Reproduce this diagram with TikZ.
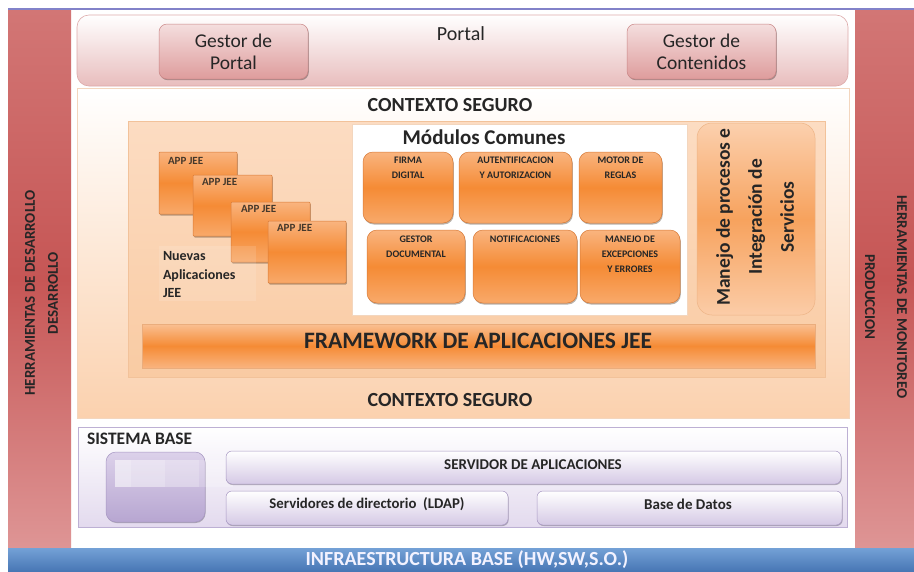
\documentclass[tikz,border=0pt]{standalone}
\usepackage{fontspec}
\setmainfont{Carlito}[BoldFont={Carlito Bold}]
\usetikzlibrary{shadows}
\newcommand\fsz[2]{\fontsize{#1}{#2}\selectfont}
% \bx[style]{name}{x1}{y1}{x2}{y2}{text}
\newcommand\bx[7][]{\node[box,#1,minimum width={(#5-#3)*1pt},minimum height={(#6-#4)*1pt}] (#2) at ({(#3+#5)/2},{(#4+#6)/2}) {#7};}
\definecolor{redtop}{HTML}{D27675}
\definecolor{redmid}{HTML}{C65655}
\definecolor{redbot}{HTML}{DE9595}
\definecolor{bluetop}{HTML}{74A1D6}
\definecolor{bluebot}{HTML}{4877B5}
\definecolor{pinkbot}{HTML}{E8BDBD}
\definecolor{pinkline}{HTML}{DDAAAA}
\definecolor{gesttop}{HTML}{F4DEDE}
\definecolor{gestbot}{HTML}{DE9C9C}
\definecolor{gestline}{HTML}{C98585}
\definecolor{peach}{HTML}{FBD1AE}
\definecolor{peachline}{HTML}{F3D6BE}
\definecolor{innertop}{HTML}{FCDCC2}
\definecolor{innerbot}{HTML}{F9CBA3}
\definecolor{innerline}{HTML}{F2C29A}
\definecolor{ortop}{HTML}{F9B47F}
\definecolor{ormid}{HTML}{F58B35}
\definecolor{orbot}{HTML}{F8A96A}
\definecolor{orline}{HTML}{D97B38}
\definecolor{lavbot}{HTML}{E3DAEE}
\definecolor{lavline}{HTML}{BDB0D4}
\definecolor{subbot}{HTML}{D5C9E5}
\definecolor{subline}{HTML}{A797C3}
\definecolor{icontop}{HTML}{DCD1EA}
\definecolor{iconbot}{HTML}{B7A6D1}
\definecolor{txt}{HTML}{262626}
\tikzset{
  box/.style={inner sep=0pt,outer sep=0pt},
  lbl/.style={inner sep=0pt,outer sep=0pt,text=txt,align=center},
  redbar/.style={top color=redtop,bottom color=redbot,middle color=redmid},
  orbox/.style={top color=ortop,bottom color=orbot,middle color=ormid,draw=orline,line width=0.5pt,
     drop shadow={shadow xshift=0.8pt,shadow yshift=-1.5pt,fill=black!70!brown,opacity=0.35}},
  modbox/.style={orbox,rounded corners=10pt},
  appbox/.style={orbox,rounded corners=1pt},
  subbox/.style={top color=white,bottom color=subbot,draw=subline,line width=0.5pt,rounded corners=6pt,
     drop shadow={shadow xshift=0.6pt,shadow yshift=-1pt,fill=black,opacity=0.25}},
  gestor/.style={top color=gesttop,bottom color=gestbot,draw=gestline,line width=0.5pt,rounded corners=8pt,
     drop shadow={shadow xshift=0.8pt,shadow yshift=-1.2pt,fill=black,opacity=0.3}},
  modtxt/.style={lbl,font=\fsz{10}{15}\bfseries,anchor=north},
  apptxt/.style={lbl,font=\fsz{11}{12}\bfseries,anchor=north west,text=txt!80!brown},
}
\begin{document}
\begin{tikzpicture}[x=1pt,y=-1pt]
\useasboundingbox (0,0) rectangle (914,571);
\fill[white] (0,0) rectangle (914,571);
% top line
\coordinate (tl) at (8,9);
\coordinate (tr) at (914,9);
\draw[color=gray!60!blue!70,line width=1.5pt] (tl) -- (tr);
% side bars
\bx[redbar]{leftbar}{8}{10}{71}{548}{}
\bx[redbar]{rightbar}{855}{10}{914}{548}{}
\node[lbl,rotate=90,font=\fsz{15}{23}\bfseries] (lefttxt) at (41.5,293) {HERRAMIENTAS DE DESARROLLO\\DESARROLLO};
\node[lbl,rotate=-90,font=\fsz{15}{32}\bfseries] (righttxt) at (886,297) {HERRAMIENTAS DE MONITOREO\\PRODUCCION};
% bottom bar
\bx[top color=bluetop,bottom color=bluebot]{bluebar}{8}{548}{914}{571}{}
\node[lbl,text=white!95!blue,font=\fsz{20}{22}\bfseries] (bluetxt) at (467,560) {INFRAESTRUCTURA BASE (HW,SW,S.O.)};
% portal
\bx[top color=white,bottom color=pinkbot,draw=pinkline,line width=0.6pt,rounded corners=12pt]{portal}{77}{15}{848}{86}{}
\node[lbl,font=\fsz{20}{22}] (portaltxt) at (461,34) {Portal};
\bx[gestor]{gportal}{159}{24}{308}{79}{}
\node[lbl,font=\fsz{19.5}{22}] (gportaltxt) at (gportal) {Gestor de\\Portal};
\bx[gestor]{gcont}{627}{24}{776}{79}{}
\node[lbl,font=\fsz{19.5}{22}] (gconttxt) at (gcont) {Gestor de\\Contenidos};
% contexto seguro
\bx[top color=white,bottom color=peach,draw=peachline,line width=0.6pt]{contexto}{77}{88}{849}{418}{}
\node[lbl,font=\fsz{20}{22}\bfseries] (ctxtop) at (450,105) {CONTEXTO SEGURO};
\node[lbl,font=\fsz{20}{22}\bfseries] (ctxbot) at (450,400) {CONTEXTO SEGURO};
\bx[top color=innertop,bottom color=innerbot,draw=innerline,line width=0.6pt]{inner}{128}{121}{825}{377}{}
% modulos comunes
\bx[fill=white,draw=peachline,line width=0.5pt]{modulos}{352}{124}{687}{315}{}
\node[lbl,font=\fsz{21}{23}\bfseries] (modtitle) at (484,137) {Módulos Comunes};
\bx[modbox]{firma}{363}{152}{453}{223}{}
\node[modtxt] (firmatxt) at (408,157) {FIRMA\\DIGITAL};
\bx[modbox]{autent}{459}{152}{572}{223}{}
\node[modtxt] (autenttxt) at (515.5,157) {AUTENTIFICACION\\Y AUTORIZACION};
\bx[modbox]{motor}{579}{152}{662}{223}{}
\node[modtxt] (motortxt) at (620.5,157) {MOTOR DE\\REGLAS};
\bx[modbox]{gestdoc}{367}{230}{465}{303}{}
\node[modtxt] (gestdoctxt) at (416,236) {GESTOR\\DOCUMENTAL};
\bx[modbox]{notif}{473}{230}{577}{303}{}
\node[modtxt] (notiftxt) at (525,236) {NOTIFICACIONES};
\bx[modbox]{excep}{580}{230}{680}{303}{}
\node[modtxt] (exceptxt) at (630,236) {MANEJO DE\\EXCEPCIONES\\Y ERRORES};
% manejo de procesos
\bx[top color=innertop!70!ortop,bottom color=innertop!60!ortop,middle color=ormid!80!white,draw=innerline!80!orline,line width=0.5pt,rounded corners=15pt]{manejo}{697}{123}{815}{315}{}
\node[lbl,rotate=90,font=\fsz{19.5}{32}\bfseries] (manejotxt) at (755,217) {Manejo de procesos e\\Integración de\\Servicios};
% app jee
\bx[appbox]{app1}{159}{152}{237}{214}{}
\node[apptxt] (app1txt) at (168,157) {APP JEE};
\bx[appbox]{app2}{193}{175}{272}{236}{}
\node[apptxt] (app2txt) at (202,178) {APP JEE};
\bx[appbox]{app3}{231}{202}{310}{262}{}
\node[apptxt] (app3txt) at (241,205) {APP JEE};
\bx[appbox]{app4}{268}{221}{346}{283}{}
\node[apptxt] (app4txt) at (277,224) {APP JEE};
\bx[fill=white,opacity=0.12]{nuevasbg}{159}{246}{256}{301}{}
\node[lbl,align=left,anchor=west,font=\fsz{14}{18.5}\bfseries] (nuevas) at (163,275) {Nuevas\\Aplicaciones\\JEE};
% framework
\bx[top color=ortop!85!white,bottom color=ortop,middle color=ormid,draw=innerline!70!orline,line width=0.5pt]{framework}{142}{324}{815}{368}{}
\node[lbl,font=\fsz{23.5}{25}\bfseries] (frametxt) at (478,341) {FRAMEWORK DE APLICACIONES JEE};
% sistema base
\bx[top color=white,bottom color=lavbot,draw=lavline,line width=0.6pt]{sistema}{78}{427}{847}{527}{}
\node[lbl,anchor=west,font=\fsz{17.5}{19}\bfseries] (sistematxt) at (87,439) {SISTEMA BASE};
\bx[top color=icontop,bottom color=iconbot,draw=subline,line width=0.5pt,rounded corners=10pt,
    drop shadow={shadow xshift=0.6pt,shadow yshift=-1pt,fill=black,opacity=0.25}]{icon}{106}{452}{205}{522}{}
\foreach \i in {0,1,2,3}{
  \bx[fill=white,opacity=0.2]{sq\i}{115+17*\i}{460}{131+17*\i}{487}{}
}
\bx[subbox]{servapp}{226}{451}{841}{484}{}
\node[lbl,font=\fsz{15}{17}\bfseries] (servapptxt) at (533,465) {SERVIDOR DE APLICACIONES};
\bx[subbox]{ldap}{226}{491}{508}{525}{}
\node[lbl,font=\fsz{14.8}{17}\bfseries] (ldaptxt) at (367,504) {Servidores de directorio\ \ (LDAP)};
\bx[subbox]{bd}{537}{491}{842}{525}{}
\node[lbl,font=\fsz{15}{17}\bfseries] (bdtxt) at (688,504) {Base de Datos};
\end{tikzpicture}
\end{document}
